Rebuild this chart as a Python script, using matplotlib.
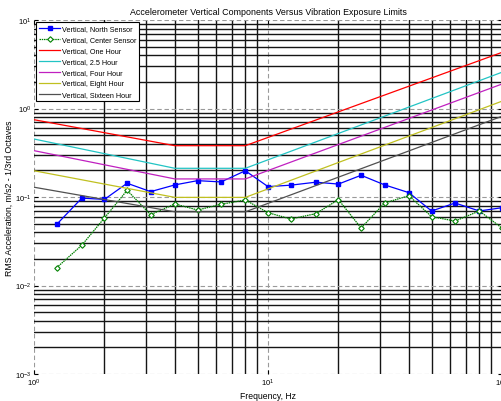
import numpy as np
import matplotlib.pyplot as plt
from matplotlib.ticker import LogLocator, NullFormatter

plt.rcParams['font.family'] = ['Liberation Sans', 'DejaVu Sans']

# 1/3 octave band centre frequencies, Hz
freq = [1.25, 1.6, 2, 2.5, 3.15, 4, 5, 6.3, 8, 10,
        12.5, 16, 20, 25, 31.5, 40, 50, 63, 80, 100]

north = [0.049, 0.097, 0.094, 0.143, 0.115, 0.137, 0.153, 0.148, 0.198, 0.131,
         0.136, 0.147, 0.140, 0.176, 0.137, 0.112, 0.0695, 0.0855, 0.0695, 0.0757]
center = [0.0159, 0.0285, 0.058, 0.119, 0.0632, 0.0834, 0.0713, 0.0827, 0.0925, 0.0665,
          0.0564, 0.0648, 0.0933, 0.0446, 0.0855, 0.1035, 0.060, 0.0535, 0.0695, 0.0446]

# exposure limit curves, breakpoints only (straight in log-log)
lim_freq = [1, 4, 8, 100]
one_hour = [0.747, 0.380, 0.380, 4.31]
h2_5 = [0.452, 0.211, 0.211, 2.57]
four_hour = [0.334, 0.160, 0.160, 1.89]
eight_hour = [0.198, 0.099, 0.099, 1.21]
sixteen_hour = [0.129, 0.068, 0.068, 0.817]

fig = plt.figure(figsize=(5.02, 4.02), dpi=100)
ax = fig.add_axes([34 / 502, 27 / 402, 468 / 502, 354 / 402])

ax.plot(freq, north, '-s', color='#0000ff', lw=0.9, ms=3.2, mfc='#0000ff', mec='#0000ff',
        label='Vertical, North Sensor')
ax.plot(freq, center, linestyle=(0, (1.2, 0.6)), marker='D', color='#008000', lw=0.9, ms=2.8,
        mfc='white', mec='#008000', mew=0.8, label='Vertical, Center Sensor')
ax.plot(lim_freq, one_hour, color='#ff0000', lw=0.9, label='Vertical, One Hour')
ax.plot(lim_freq, h2_5, color='#22c4c4', lw=0.9, label='Vertical, 2.5 Hour')
ax.plot(lim_freq, four_hour, color='#c020c0', lw=0.9, label='Vertical, Four Hour')
ax.plot(lim_freq, eight_hour, color='#c0c020', lw=0.9, label='Vertical, Eight Hour')
ax.plot(lim_freq, sixteen_hour, color='#505050', lw=0.9, label='Vertical, Sixteen Hour')

ax.set_xscale('log')
ax.set_yscale('log')
ax.set_xlim(1, 100)
ax.set_ylim(1e-3, 10)

ax.xaxis.set_minor_locator(LogLocator(base=10, subs=np.arange(2, 10)))
ax.yaxis.set_minor_locator(LogLocator(base=10, subs=np.arange(2, 10)))
ax.xaxis.set_minor_formatter(NullFormatter())
ax.yaxis.set_minor_formatter(NullFormatter())

ax.set_axisbelow(True)
ax.grid(which='major', color='#9a9a9a', linestyle=(0, (4, 2.5)), linewidth=0.8)
ax.grid(which='minor', color='#151515', linestyle='-', linewidth=1.0)
for s in ax.spines.values():
    s.set_visible(False)

ax.tick_params(which='major', direction='in', length=3, width=0.8, labelsize=5.5,
               right=True, top=True, pad=2)
ax.tick_params(which='minor', length=0)

ax.set_title('Accelerometer Vertical Components Versus Vibration Exposure Limits',
             fontsize=6.4, pad=4)
ax.set_xlabel('Frequency, Hz', fontsize=6.2, labelpad=2)
ax.set_ylabel('RMS Acceleration, m/s2 - 1/3rd Octaves', fontsize=6.3, labelpad=1)

leg = ax.legend(loc='upper left', fontsize=5.2, frameon=True, fancybox=False,
                edgecolor='black', framealpha=1, borderaxespad=0.3,
                handlelength=2.9, labelspacing=0.55, borderpad=0.4, handletextpad=0.25)
leg.get_frame().set_linewidth(0.8)

fig.savefig('out.png', dpi=100)
